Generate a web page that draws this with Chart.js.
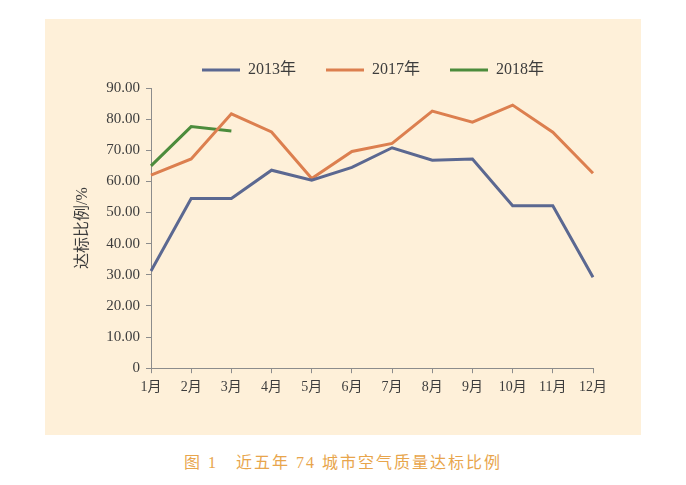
<!DOCTYPE html>
<html>
<head>
<meta charset="utf-8">
<script src="https://cdn.jsdelivr.net/npm/chart.js@4/dist/chart.umd.min.js"></script>
<style>
  html, body { margin: 0; padding: 0; background: #ffffff; overflow: hidden; width: 686px; height: 485px; }
  #panel { position: absolute; left: 45px; top: 19px; width: 596px; height: 416px; background: #fef0d9; }
  #caption {
    position: absolute; left: 0; top: 449px; width: 686px; text-align: center;
    font: 16px 'Liberation Serif', 'Noto Sans CJK SC', serif; color: #e8a54c; letter-spacing: 2px;
  }
</style>
</head>
<body>
<div id="panel"><canvas id="chart" width="596" height="416"></canvas></div>
<div id="caption">图 1　近五年 74 城市空气质量达标比例</div>
<script>
/* 数据 */
const months  = ['1月','2月','3月','4月','5月','6月','7月','8月','9月','10月','11月','12月'];
const y2013   = [31.2, 54.5, 54.5, 63.6, 60.4, 64.5, 70.8, 66.8, 67.2, 52.2, 52.2, 29.2];
const y2017   = [62.0, 67.2, 81.7, 75.9, 60.9, 69.6, 72.2, 82.6, 79.0, 84.5, 75.8, 62.6];
const y2018   = [65.0, 77.6, 76.2];
const yTicks  = [0, 10, 20, 30, 40, 50, 60, 70, 80, 90];

const FONT = "'Liberation Serif', 'Noto Sans CJK SC', serif";
const TEXT = '#3d3d3d';
const AXIS = '#8c8c8c';

Chart.defaults.font.family = FONT;
Chart.defaults.color = TEXT;
Chart.defaults.animation = false;

function line(label, data, color) {
  return {
    label, data,
    borderColor: color,
    backgroundColor: color,
    borderWidth: 3,
    pointRadius: 0,
    tension: 0,
    fill: false,
  };
}

/* 图例在原图中不居中，整体右移到第一项从 x=157 开始 */
const legendShift = {
  id: 'legendShift',
  afterLayout(chart) {
    const lg = chart.legend;
    if (!lg || !lg.lineWidths) return;
    const pad = lg.options.labels.padding;
    const start = (lg.left + pad + lg.right - lg.lineWidths[0]) / 2;
    const dx = 157 - start;
    lg.left += dx;
    lg.right += dx;
  }
};

new Chart(document.getElementById('chart'), {
  type: 'line',
  data: {
    labels: months,
    datasets: [
      line('2013年', y2013, '#5b6891'),
      line('2017年', y2017, '#dc7f4f'),
      line('2018年', y2018, '#4c8c3c'),
    ]
  },
  plugins: [legendShift],
  options: {
    responsive: false,
    maintainAspectRatio: false,
    layout: { padding: { left: 24, right: 48, top: 13, bottom: 33 } },
    plugins: {
      tooltip: { enabled: false },
      legend: {
        position: 'top',
        labels: {
          usePointStyle: true,
          pointStyle: 'line',
          pointStyleWidth: 38,
          boxHeight: 16,
          padding: 30,
          color: TEXT,
          font: { size: 16, family: FONT },
        }
      }
    },
    scales: {
      x: {
        offset: false,
        grid:   { drawOnChartArea: false, drawTicks: true, tickLength: 5, color: AXIS },
        border: { color: AXIS, width: 1 },
        ticks:  { color: TEXT, font: { size: 14 }, padding: 6, maxRotation: 0, autoSkip: false },
      },
      y: {
        min: 0, max: 90,
        afterFit: s => { s.width = 82; },
        afterBuildTicks: s => { s.ticks = yTicks.map(v => ({ value: v })); },
        grid:   { drawOnChartArea: false, drawTicks: true, tickLength: 5, color: AXIS },
        border: { color: AXIS, width: 1 },
        ticks:  {
          color: TEXT, font: { size: 15 }, padding: 6,
          callback: v => v === 0 ? '0' : v.toFixed(2)
        },
        title:  { display: true, text: '达标比例/%', color: TEXT, font: { size: 16 }, padding: 4 }
      }
    }
  }
});
</script>
</body>
</html>
